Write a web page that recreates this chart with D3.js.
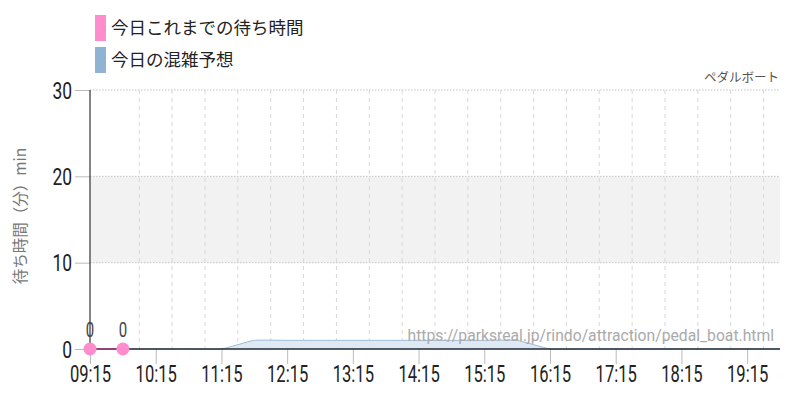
<!DOCTYPE html>
<html><head><meta charset="utf-8">
<script src="https://cdn.jsdelivr.net/npm/d3@7"></script>
<style>
body{margin:0;background:#fff;}
svg{display:block;}
.cjk{font-family:"Noto Sans CJK JP","Noto Sans",sans-serif;}
.num{font-family:Roboto,"Liberation Sans",sans-serif;}
</style></head>
<body>
<script>
// ---- data ----
const forecastTimes = ["09:15","09:45","10:15","10:45","11:15","11:45","12:15","12:45","13:15","13:45","14:15","14:45","15:15","15:45","16:15","16:45","17:15","17:45","18:15","18:45","19:15","19:45"];
const forecastValues = [0,0,0,0,0,1,1,1,1,1,1,1,1,1,0,0,0,0,0,0,0,0];
const actualTimes = ["09:15","09:45"];
const actualValues = [0,0];
const xTickLabels = ["09:15","10:15","11:15","12:15","13:15","14:15","15:15","16:15","17:15","18:15","19:15"];
const yTicks = [0,10,20,30];
const legendLabels = ["今日これまでの待ち時間","今日の混雑予想"];
const legendColors = ["#ff8ccc","#8fb3d3"];
const title = "ペダルボート";
const urlText = "https://parksreal.jp/rindo/attraction/pedal_boat.html";
const yTitle = "待ち時間（分）min";

const parse = s => { const [h,m] = s.split(":").map(Number); return new Date(2024,0,1,h,m); };
const W = 800, H = 400;
const svg = d3.select("body").append("svg").attr("width",W).attr("height",H);

const x = d3.scaleTime().domain([parse("09:15"), parse("19:45")]).range([90,780]);
const y = d3.scaleLinear().domain([0,30]).range([349,90]);

// band 10-20
svg.append("rect").attr("x",x.range()[0]).attr("width",x.range()[1]-x.range()[0])
  .attr("y",y(20)).attr("height",y(10)-y(20)).attr("fill","#f2f2f2");

// vertical grid
const gridTimes = d3.timeMinute.every(30).range(parse("09:45"), d3.timeMinute.offset(parse("19:45"),1));
gridTimes.forEach(t => {
  const is15 = t.getMinutes() === 15;
  svg.append("line").attr("x1",x(t)).attr("x2",x(t)).attr("y1",y(30)).attr("y2",y(0))
    .attr("stroke", is15 ? "#c4c4c4" : "#d8d8d8")
    .attr("stroke-width",1)
    .attr("stroke-dasharray", is15 ? "1.5,1.5" : "4,4");
});
// horizontal grid
[10,20,30].forEach(v => {
  svg.append("line").attr("x1",90).attr("x2",780).attr("y1",y(v)).attr("y2",y(v))
    .attr("stroke","#c4c4c4").attr("stroke-dasharray","1.5,1.5");
});

// forecast area
const fdata = forecastTimes.map((t,i)=>({t:parse(t), v:forecastValues[i]}));
const curve = d3.curveCardinal.tension(0.6);
svg.append("path").datum(fdata)
  .attr("d", d3.area().x(d=>x(d.t)).y0(y(0)).y1(d=>y(d.v)).curve(curve))
  .attr("fill","#dbe7f2").attr("fill-opacity",0.9);
svg.append("path").datum(fdata)
  .attr("d", d3.line().x(d=>x(d.t)).y(d=>y(d.v)).curve(curve))
  .attr("fill","none").attr("stroke","#9dbbd6").attr("stroke-width",1);

// y axis
const yAxis = svg.append("g").attr("transform","translate(90,0)")
  .call(d3.axisLeft(y).tickValues(yTicks).tickSize(15).tickPadding(3));
yAxis.select(".domain").remove();
yAxis.selectAll(".tick line").attr("stroke","#bbb");
yAxis.selectAll(".tick text").attr("class","num").attr("font-size",23).attr("fill","#222")
  .attr("dy","0.36em")
  .attr("transform","scale(0.76,1)").attr("x",-18/0.76);
svg.append("line").attr("x1",90).attr("x2",90).attr("y1",y(30)).attr("y2",y(0)).attr("stroke","#333").attr("stroke-width",1.2);

// x axis
const xAxis = svg.append("g").attr("transform",`translate(0,${y(0)})`)
  .call(d3.axisBottom(x).tickValues(xTickLabels.map(parse)).tickFormat(d3.timeFormat("%H:%M")).tickSize(15).tickPadding(3));
xAxis.select(".domain").remove();
xAxis.selectAll(".tick line").attr("stroke","#bbb");
xAxis.selectAll(".tick text").attr("class","num").attr("font-size",23).attr("fill","#222")
  .attr("y",17).attr("dy","0.71em").attr("transform","scale(0.72,1)");
svg.append("line").attr("x1",90).attr("x2",780).attr("y1",y(0)).attr("y2",y(0)).attr("stroke","#1f2a38").attr("stroke-width",1.5);

// actual line + points
const adata = actualTimes.map((t,i)=>({t:parse(t), v:actualValues[i]}));
svg.append("path").datum(adata)
  .attr("d", d3.line().x(d=>x(d.t)).y(d=>y(d.v)))
  .attr("fill","none").attr("stroke","#a0407a").attr("stroke-width",1.5);
svg.selectAll(".pt").data(adata).enter().append("circle")
  .attr("cx",d=>x(d.t)).attr("cy",d=>y(d.v)).attr("r",6.5).attr("fill","#ff8ccc");
svg.selectAll(".lbl").data(adata).enter().append("text").attr("class","num")
  .attr("transform",d=>`translate(${x(d.t)},${y(d.v)-12}) scale(0.75,1)`)
  .attr("text-anchor","middle").attr("font-size",20).attr("fill","#444").text(d=>d.v);

// legend
legendLabels.forEach((l,i)=>{
  svg.append("rect").attr("x",95).attr("y",15+i*32).attr("width",11).attr("height",26).attr("fill",legendColors[i]);
  svg.append("text").attr("class","cjk").attr("x",111).attr("y",28+i*32).attr("dy","0.36em")
    .attr("font-size",17.5).attr("fill","#222").text(l);
});

// title top-right
svg.append("text").attr("class","cjk").attr("x",779).attr("y",82).attr("text-anchor","end")
  .attr("font-size",12.5).attr("fill","#555").text(title);

// url watermark
svg.append("text").attr("x",774).attr("y",341).attr("text-anchor","end")
  .attr("font-family","Roboto, sans-serif").attr("font-size",15.7).attr("fill","#aaa").text(urlText);

// y title
svg.append("text").attr("class","cjk").attr("transform","translate(26,216) rotate(-90)")
  .attr("text-anchor","middle").attr("font-size",15.5).attr("fill","#777").text(yTitle);
</script>
</body></html>
